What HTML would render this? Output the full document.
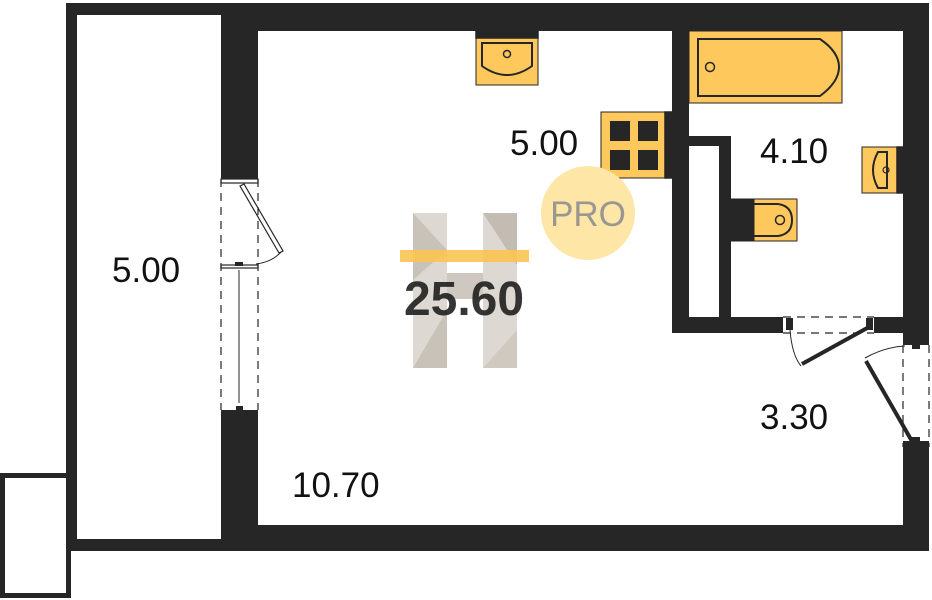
<!DOCTYPE html>
<html><head><meta charset="utf-8"><style>
html,body{margin:0;padding:0;background:#fff;width:932px;height:600px;overflow:hidden}
</style></head><body>
<svg width="932" height="600" viewBox="0 0 932 600" xmlns="http://www.w3.org/2000/svg" font-family="'Liberation Sans', sans-serif">
<g fill="#262626">
<!-- left wall balcony -->
<rect x="66" y="3" width="11" height="548"/>
<rect x="66" y="3" width="192" height="12"/>
<rect x="66" y="539" width="192" height="12"/>
<!-- top wall main -->
<rect x="221" y="3" width="708" height="28"/>
<!-- left thick wall -->
<rect x="221" y="3" width="37" height="176"/>
<rect x="221" y="410" width="37" height="141"/>
<!-- bottom wall -->
<rect x="221" y="525" width="708" height="26"/>
<!-- right wall -->
<rect x="903" y="3" width="26" height="335"/>
<rect x="903" y="447" width="26" height="104"/>
<!-- partition -->
<rect x="672" y="3" width="17" height="330"/>
<rect x="672" y="317" width="111" height="16"/>
<rect x="874" y="317" width="29" height="16"/>
<!-- shaft -->
<rect x="689" y="136" width="42" height="10"/>
<rect x="719" y="136" width="12" height="181"/>
</g>
<!-- small box -->
<rect x="2.5" y="475.5" width="66" height="120" fill="#fff" stroke="#262626" stroke-width="5"/>
<!-- left window -->
<g stroke="#262626" fill="none">
<line x1="221" y1="179" x2="221" y2="410" stroke-dasharray="8,6" stroke-width="1.2"/>
<line x1="258" y1="179" x2="258" y2="410" stroke-dasharray="8,6" stroke-width="1.2"/>
<rect x="221" y="179" width="37" height="4" stroke-width="1.2"/>
<rect x="221" y="265" width="37" height="3" stroke-width="1.2"/>
<line x1="239" y1="270" x2="239" y2="403" stroke-width="1"/>
<polygon points="240,186 244,184 283,251 279,253" stroke-width="1.2"/>
<path d="M281,252 Q272,262 256,264" stroke-width="1"/>
<!-- bathroom door -->
<line x1="783" y1="317" x2="874" y2="317" stroke-dasharray="8,6" stroke-width="1.2"/>
<line x1="783" y1="333" x2="874" y2="333" stroke-dasharray="8,6" stroke-width="1.2"/>
<path d="M790,330 Q792,355 801,366" stroke-width="1"/>
<line x1="869" y1="327" x2="802" y2="364" stroke-width="4" stroke="#262626"/>
<!-- entry door -->
<line x1="903" y1="345" x2="903" y2="447" stroke-dasharray="8,6" stroke-width="1.2"/>
<line x1="929" y1="345" x2="929" y2="447" stroke-dasharray="8,6" stroke-width="1.2"/>
<path d="M865,358 Q885,347 905,346" stroke-width="1"/>
<line x1="866" y1="361" x2="913" y2="443" stroke-width="4" stroke="#262626"/>
</g>
<g fill="#262626">
<rect x="236" y="406" width="7" height="6"/>
<rect x="235" y="262" width="8" height="4"/>
<rect x="786" y="318" width="7" height="12"/>
<rect x="866" y="318" width="7" height="12"/>
<rect x="903" y="338" width="26" height="7"/>
<rect x="903" y="441" width="26" height="7"/>
<rect x="912" y="345" width="8" height="4"/>
<rect x="912" y="437" width="8" height="4"/>
</g>
<!-- fixtures -->
<g stroke="#262626" stroke-width="1.5">
<rect x="476" y="31" width="62" height="54" fill="#fec85c" stroke-width="1"/>
<rect x="476" y="31" width="62" height="7" fill="#262626"/>
<path d="M482,43 H532 V66 Q507,84 482,66 Z" fill="none" stroke-width="2"/>
<circle cx="507" cy="54" r="3.5" fill="none"/>
<rect x="601" y="112" width="71" height="66" fill="#fec85c" stroke-width="1"/>
<rect x="665" y="112" width="7" height="66" fill="#262626"/>
<g fill="#262626" stroke="none">
<rect x="610" y="121" width="20" height="20"/><rect x="638" y="121" width="20" height="20"/>
<rect x="610" y="150" width="20" height="20"/><rect x="638" y="150" width="20" height="20"/>
</g>
<rect x="689" y="31" width="153" height="72" fill="#fec85c" stroke-width="1"/>
<path d="M698,39 H820 Q839,52 839,67 Q839,82 820,96 H698 Z" fill="none" stroke-width="2"/>
<circle cx="710" cy="67" r="4.5" fill="none"/>
<rect x="862" y="147" width="41" height="46" fill="#fec85c" stroke-width="1"/>
<rect x="897" y="147" width="6" height="46" fill="#262626"/>
<path d="M887,152 H878 Q868,170 878,188 H887 Z" fill="none" stroke-width="2"/>
<circle cx="886" cy="170" r="3" fill="none" stroke-width="1.2"/>
<rect x="731" y="199" width="23" height="42" fill="#262626" stroke-width="1"/>
<rect x="754" y="199" width="43" height="42" fill="#fec85c" stroke-width="1"/>
<path d="M754,204 H778 Q792,206 792,220 Q792,234 778,236 H754" fill="none" stroke-width="2"/>
<circle cx="780" cy="220" r="4.5" fill="none"/>
</g>
<!-- logo H -->
<g>
<rect x="413" y="213" width="34" height="155" fill="#ddd8d2"/>
<rect x="483" y="213" width="34" height="155" fill="#ddd8d2"/>
<rect x="447" y="273" width="36" height="26" fill="#cfc8c0"/>
<polygon points="413,213 447,250 413,280" fill="#c9c2b9"/>
<polygon points="483,213 517,213 517,265" fill="#c4bcb2"/>
<polygon points="413,368 447,310 447,368" fill="#c9c2b9"/>
<polygon points="483,368 517,330 517,368" fill="#d0c9c0"/>
<rect x="400" y="250" width="129" height="12" fill="#fcc451" opacity="0.9"/>
</g>
<circle cx="588" cy="213" r="47" fill="#fee6a6"/>
<text x="588" y="226" font-size="35" fill="#9a9792" text-anchor="middle">PRO</text>
<text x="464" y="315" font-size="48" font-weight="bold" fill="#1a1a1a" text-anchor="middle" opacity="0.88">25.60</text>
<g font-size="35" fill="#111">
<text x="510" y="155">5.00</text>
<text x="760" y="163">4.10</text>
<text x="760" y="429">3.30</text>
<text x="292" y="497">10.70</text>
<text x="112" y="282">5.00</text>
</g>
</svg>
</body></html>
